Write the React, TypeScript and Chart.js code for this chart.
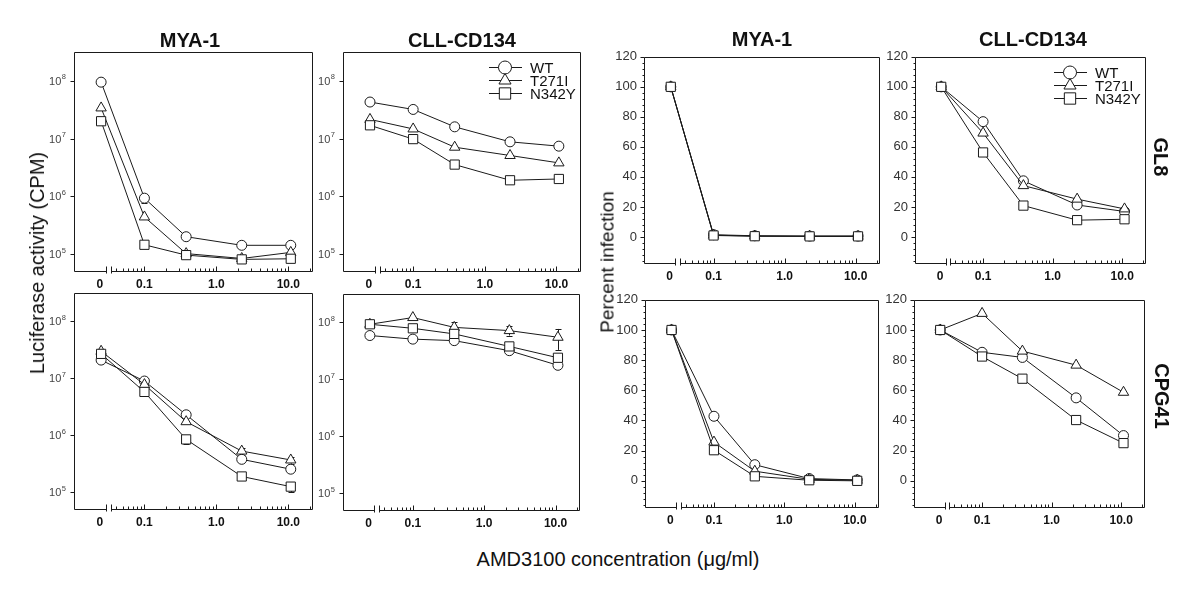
import React, { useEffect, useRef } from 'react';
import { Chart, registerables } from 'chart.js';
import { drawPoint } from 'chart.js/helpers';

Chart.register(...registerables);

const FONT = "'Liberation Sans', Arial, Helvetica, sans-serif";
const INK = '#1a1a1a';

// ---------- data ----------
const seriesNames = ['WT', 'T271I', 'N342Y'];
// "0" concentration is drawn at a placeholder position left of the axis break
const concentrations = [0.025, 0.1, 0.38, 2.25, 10.8];
const xTickValues = [0.024, 0.1, 1, 10];
const xTickLabels = ['0', '0.1', '1.0', '10.0'];
const xMajorTicks = [0.1, 1, 10];
const xMinorTicks = [0.04, 0.05, 0.06, 0.07, 0.08, 0.09, 0.2, 0.3, 0.4, 0.5, 0.6, 0.7, 0.8, 0.9, 2, 3, 4, 5, 6, 7, 8, 9, 20];
const xBreak = [0.029, 0.034];
const logTicks = [1e5, 1e6, 1e7, 1e8];
const logTickExponents = ['5', '6', '7', '8'];
const pctTicks = [0, 20, 40, 60, 80, 100, 120];

// GL8 row
const gl8Mya1Luc = [
  [9.5e7, 9.3e5, 2.0e5, 1.42e5, 1.42e5],
  [3.4e7, 4.4e5, 1.02e5, 8.4e4, 1.07e5],
  [2.0e7, 1.45e5, 9.6e4, 8.1e4, 8.3e4],
];
const gl8Mya1LucErr = [
  [0, 1.5e5, 0, 0, 0],
  [0, 0, 0, 0, 0],
  [0, 0, 0, 0, 0],
];
const gl8CllLuc = [
  [4.3e7, 3.2e7, 1.6e7, 8.8e6, 7.4e6],
  [2.15e7, 1.47e7, 7.1e6, 5.1e6, 3.8e6],
  [1.7e7, 9.8e6, 3.55e6, 1.9e6, 2.0e6],
];
const gl8Mya1Pct = [
  [100, 1.5, 0.8, 0.6, 0.6],
  [100, 1.2, 0.6, 0.5, 0.5],
  [100, 1.0, 0.5, 0.4, 0.4],
];
const gl8CllPct = [
  [100, 76.8, 37.4, 21.3, 17.0],
  [100, 69.2, 34.2, 25.2, 18.7],
  [100, 56.3, 20.9, 11.2, 11.8],
];

// CPG41 row
const cpgMya1Luc = [
  [2.1e7, 9.0e6, 2.3e6, 3.8e5, 2.55e5],
  [3.0e7, 7.8e6, 1.74e6, 5.3e5, 3.7e5],
  [2.7e7, 5.8e6, 8.5e5, 1.9e5, 1.26e5],
];
const cpgMya1LucErr = [
  [0, 0, 0, 0, 0],
  [0, 0, 0, 8e4, 5e4],
  [0, 0, 1.5e5, 0, 2.5e4],
];
const cpgCllLuc = [
  [5.9e7, 5.1e7, 4.8e7, 3.2e7, 1.77e7],
  [9.3e7, 1.22e8, 8.2e7, 7.2e7, 5.5e7],
  [9.3e7, 7.9e7, 6.3e7, 3.8e7, 2.4e7],
];
const cpgCllLucErr = [
  [0, 0, 0, 0, 0],
  [0, 0, 1.8e7, 1.3e7, 2.2e7],
  [0, 0, 0, 0, 4e6],
];
const cpgMya1Pct = [
  [100, 42.8, 10.7, 1.5, 0.6],
  [100, 25.7, 6.4, 1.0, 0.4],
  [100, 20.3, 3.0, 0.4, 0.0],
];
const cpgCllPct = [
  [100, 85.2, 81.8, 55, 30],
  [100, 111, 86, 76.7, 58.7],
  [100, 82.4, 67.7, 40.3, 25],
];

// ---------- styles / layout ----------
const pointStyles = ['circle', 'triangle', 'rect'];
const pointRadii = [5, 6, 6.5];
const legendRadii = [6.5, 7, 8];
const AXIS_W = 50;
const AXIS_H = 26;
const PAD_T = 8;
const PAD_R = 8;
const LOG_MIN = Math.pow(10, 4.69);
const LOG_MAX = Math.pow(10, 8.5);
const X_MIN = 0.0105;
const X_MAX = 22;

type Panel = {
  id: string;
  kind: 'log' | 'pct';
  data: number[][];
  errors?: number[][];
  area: [number, number, number, number];
  legend?: boolean;
};

const panels: Panel[] = [
  { id: 'p1', kind: 'log', data: gl8Mya1Luc, errors: gl8Mya1LucErr, area: [74, 52, 313, 272] },
  { id: 'p2', kind: 'log', data: gl8CllLuc, area: [343, 52, 581, 272], legend: true },
  { id: 'p3', kind: 'pct', data: gl8Mya1Pct, area: [644, 50, 880, 264] },
  { id: 'p4', kind: 'pct', data: gl8CllPct, area: [915, 50, 1146, 264], legend: true },
  { id: 'p5', kind: 'log', data: cpgMya1Luc, errors: cpgMya1LucErr, area: [74, 293, 313, 510] },
  { id: 'p6', kind: 'log', data: cpgCllLuc, errors: cpgCllLucErr, area: [343, 294, 580, 511] },
  { id: 'p7', kind: 'pct', data: cpgMya1Pct, area: [645, 293, 879, 508] },
  { id: 'p8', kind: 'pct', data: cpgCllPct, area: [914, 293, 1145, 508] },
];

function makeFramePlugin(kind: 'log' | 'pct') {
  return {
    id: 'frameTicks',
    beforeDatasetsDraw(chart: any) {
      const { ctx, chartArea: a, scales } = chart;
      const xs = scales.x;
      const ys = scales.y;
      const L = Math.round(a.left) + 0.5;
      const R = Math.round(a.right) - 0.5;
      const T = Math.round(a.top) + 0.5;
      const B = Math.round(a.bottom) - 0.5;
      ctx.save();
      ctx.strokeStyle = INK;
      ctx.lineWidth = 1;
      ctx.beginPath();
      ctx.moveTo(L, B);
      ctx.lineTo(L, T);
      ctx.lineTo(R, T);
      ctx.lineTo(R, B);
      const b1 = Math.round(xs.getPixelForValue(xBreak[0])) + 0.5;
      const b2 = Math.round(xs.getPixelForValue(xBreak[1])) + 0.5;
      ctx.moveTo(L, B);
      ctx.lineTo(b1, B);
      ctx.moveTo(b2, B);
      ctx.lineTo(R, B);
      ctx.moveTo(b1, B - 5);
      ctx.lineTo(b1, B + 2);
      ctx.moveTo(b2, B - 5);
      ctx.lineTo(b2, B + 2);
      for (const v of xMajorTicks) {
        const px = Math.round(xs.getPixelForValue(v)) + 0.5;
        ctx.moveTo(px, B);
        ctx.lineTo(px, B - 5);
      }
      for (const v of xMinorTicks) {
        const px = Math.round(xs.getPixelForValue(v)) + 0.5;
        ctx.moveTo(px, B);
        ctx.lineTo(px, B - 3);
      }
      if (kind === 'log') {
        for (const v of logTicks) {
          const py = Math.round(ys.getPixelForValue(v)) + 0.5;
          ctx.moveTo(L, py);
          ctx.lineTo(L - 4, py);
        }
      } else {
        for (const v of pctTicks) {
          const py = Math.round(ys.getPixelForValue(v)) + 0.5;
          ctx.moveTo(L, py);
          ctx.lineTo(L - 4, py);
        }
        for (let v = -16; v < 120; v += 4) {
          if (v % 20 === 0) continue;
          const py = Math.round(ys.getPixelForValue(v)) + 0.5;
          ctx.moveTo(L, py);
          ctx.lineTo(L - 2, py);
        }
      }
      ctx.stroke();

      // log-axis labels: "10" with a raised exponent
      if (kind === 'log') {
        ctx.fillStyle = '#444';
        ctx.textAlign = 'right';
        ctx.textBaseline = 'alphabetic';
        logTicks.forEach((v, i) => {
          const py = ys.getPixelForValue(v);
          const xr = a.left - 8;
          ctx.font = `7.5px ${FONT}`;
          const exp = logTickExponents[i];
          const ew = ctx.measureText(exp).width;
          ctx.fillText(exp, xr, py - 1.5);
          ctx.font = `11px ${FONT}`;
          ctx.fillText('10', xr - ew - 0.5, py + 4);
        });
      }
      ctx.restore();
    },
  };
}

const errorBarPlugin = {
  id: 'errorBars',
  beforeDatasetsDraw(chart: any) {
    const { ctx, scales } = chart;
    const xs = scales.x;
    const ys = scales.y;
    ctx.save();
    ctx.strokeStyle = INK;
    ctx.lineWidth = 1;
    ctx.beginPath();
    chart.data.datasets.forEach((ds: any) => {
      const errs = ds.errors;
      if (!errs) return;
      ds.data.forEach((p: any, i: number) => {
        const e = errs[i];
        if (!e) return;
        const px = Math.round(xs.getPixelForValue(p.x)) + 0.5;
        const yTop = ys.getPixelForValue(p.y + e);
        const yBot = ys.getPixelForValue(Math.max(p.y - e, p.y * 0.05));
        ctx.moveTo(px, yTop);
        ctx.lineTo(px, yBot);
        ctx.moveTo(px - 3, Math.round(yTop) + 0.5);
        ctx.lineTo(px + 3, Math.round(yTop) + 0.5);
        ctx.moveTo(px - 3, Math.round(yBot) + 0.5);
        ctx.lineTo(px + 3, Math.round(yBot) + 0.5);
      });
    });
    ctx.stroke();
    ctx.restore();
  },
};

const legendRows = [15, 28, 41];

const insideLegendPlugin = {
  id: 'insideLegend',
  afterDatasetsDraw(chart: any) {
    if (!chart.options.plugins.insideLegend?.show) return;
    const { ctx, chartArea: a } = chart;
    ctx.save();
    ctx.lineWidth = 1;
    seriesNames.forEach((name, i) => {
      const y = Math.round(a.top + legendRows[i]) + 0.5;
      const x1 = a.right - 92;
      const x2 = a.right - 59;
      const xm = a.right - 76;
      ctx.strokeStyle = INK;
      ctx.beginPath();
      ctx.moveTo(x1, y);
      ctx.lineTo(x2, y);
      ctx.stroke();
      ctx.fillStyle = '#ffffff';
      ctx.strokeStyle = INK;
      drawPoint(ctx, { pointStyle: pointStyles[i], radius: legendRadii[i], rotation: 0, borderWidth: 1 } as any, xm, y);
      ctx.fillStyle = '#111';
      ctx.font = `15px ${FONT}`;
      ctx.textBaseline = 'middle';
      ctx.textAlign = 'left';
      ctx.fillText(name, a.right - 51, y + 1);
    });
    ctx.restore();
  },
};

function PanelChart({ panel }: { panel: Panel }) {
  const ref = useRef<HTMLCanvasElement>(null);
  const [l, t, r, b] = panel.area;
  const width = r - l + AXIS_W + PAD_R;
  const height = b - t + PAD_T + AXIS_H;

  useEffect(() => {
    const isLog = panel.kind === 'log';
    const chart = new Chart(ref.current as HTMLCanvasElement, {
      type: 'line',
      data: {
        datasets: panel.data.map((vals, si) => ({
          label: seriesNames[si],
          data: vals.map((v, i) => ({ x: concentrations[i], y: v })),
          errors: panel.errors ? panel.errors[si] : undefined,
          borderColor: INK,
          borderWidth: 1,
          pointStyle: pointStyles[si],
          pointRadius: pointRadii[si],
          pointBackgroundColor: '#ffffff',
          pointBorderColor: INK,
          pointBorderWidth: 1,
          fill: false,
          tension: 0,
          order: 2 - si,
        })) as any,
      },
      options: {
        responsive: false,
        animation: false,
        devicePixelRatio: 1,
        events: [],
        layout: { padding: { left: 0, top: PAD_T, right: PAD_R, bottom: 0 }, autoPadding: false } as any,
        plugins: {
          legend: { display: false },
          tooltip: { enabled: false },
          insideLegend: { show: !!panel.legend },
        } as any,
        scales: {
          x: {
            type: 'logarithmic',
            min: X_MIN,
            max: X_MAX,
            grid: { display: false, drawTicks: false },
            border: { display: false },
            afterBuildTicks: (s: any) => {
              s.ticks = xTickValues.map((v) => ({ value: v }));
            },
            afterFit: (s: any) => {
              s.height = AXIS_H;
            },
            ticks: {
              autoSkip: false,
              maxRotation: 0,
              padding: 5,
              color: '#111',
              font: { family: FONT, size: 12, weight: 'bold' },
              callback: (_v: any, i: number) => xTickLabels[i],
            },
          },
          y: isLog
            ? {
                type: 'logarithmic',
                min: LOG_MIN,
                max: LOG_MAX,
                grid: { display: false, drawTicks: false },
                border: { display: false },
                afterBuildTicks: (s: any) => {
                  s.ticks = logTicks.map((v) => ({ value: v }));
                },
                afterFit: (s: any) => {
                  s.width = AXIS_W;
                },
                ticks: { display: false },
              }
            : {
                type: 'linear',
                min: -18,
                max: 120,
                grid: { display: false, drawTicks: false },
                border: { display: false },
                afterBuildTicks: (s: any) => {
                  s.ticks = pctTicks.map((v) => ({ value: v }));
                },
                afterFit: (s: any) => {
                  s.width = AXIS_W;
                },
                ticks: {
                  autoSkip: false,
                  padding: 7,
                  color: '#333',
                  font: { family: FONT, size: 13 },
                },
              },
        } as any,
      },
      plugins: [makeFramePlugin(panel.kind), errorBarPlugin, insideLegendPlugin],
    } as any);
    return () => chart.destroy();
  }, [panel]);

  return (
    <canvas
      ref={ref}
      width={width}
      height={height}
      style={{ position: 'absolute', left: l - AXIS_W, top: t - PAD_T, width, height }}
    />
  );
}

type Label = { text: string; x: number; y: number; size: number; bold?: boolean; rotate?: number };

const labels: Label[] = [
  { text: 'MYA-1', x: 190, y: 40, size: 20, bold: true },
  { text: 'CLL-CD134', x: 462, y: 40, size: 20, bold: true },
  { text: 'MYA-1', x: 762, y: 39, size: 20, bold: true },
  { text: 'CLL-CD134', x: 1033, y: 39, size: 20, bold: true },
  { text: 'GL8', x: 1161, y: 157, size: 20, bold: true, rotate: 90 },
  { text: 'CPG41', x: 1162, y: 396, size: 20, bold: true, rotate: 90 },
  { text: 'Luciferase activity (CPM)', x: 37, y: 263, size: 20, rotate: -90 },
  { text: 'Percent infection', x: 607, y: 262, size: 19, rotate: -90 },
  { text: 'AMD3100 concentration (μg/ml)', x: 618, y: 559, size: 20 },
];

export default function App() {
  return (
    <div
      style={{
        position: 'fixed',
        left: 0,
        top: 0,
        width: 1200,
        height: 597,
        background: '#ffffff',
        overflow: 'hidden',
        fontFamily: FONT,
        color: '#111',
      }}
    >
      {panels.map((p) => (
        <PanelChart key={p.id} panel={p} />
      ))}
      {labels.map((lb, i) => (
        <div
          key={i}
          style={{
            position: 'absolute',
            left: lb.x,
            top: lb.y,
            transform: `translate(-50%, -50%) rotate(${lb.rotate || 0}deg)`,
            whiteSpace: 'nowrap',
            fontSize: lb.size,
            fontWeight: lb.bold ? 'bold' : 'normal',
            lineHeight: 1,
          }}
        >
          {lb.text}
        </div>
      ))}
    </div>
  );
}
